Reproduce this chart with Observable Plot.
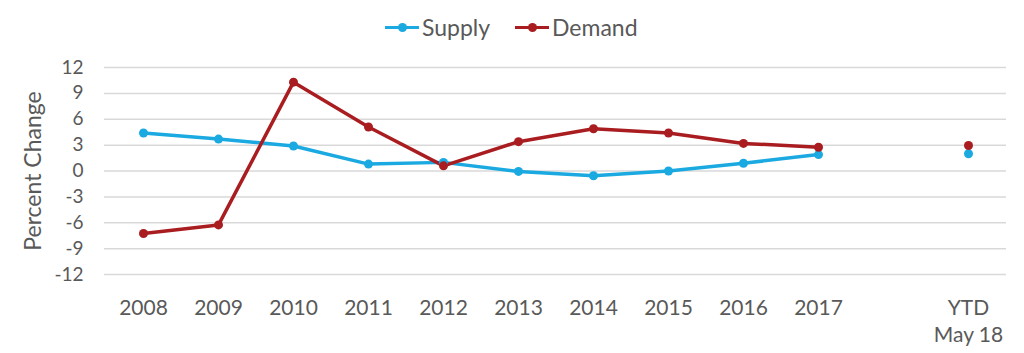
<!DOCTYPE html>
<html>
<head>
<meta charset="utf-8">
<script src="https://cdn.jsdelivr.net/npm/d3@7"></script>
<script src="https://cdn.jsdelivr.net/npm/@observablehq/plot@0.6"></script>
<style>
  html, body { margin: 0; padding: 0; background: #fff; }
  body { width: 1024px; height: 353px; overflow: hidden; font-family: Lato, "Noto Sans", sans-serif; color: #595959; }
  #legend { height: 50px; position: relative; }
  .item { position: absolute; top: 13px; display: flex; align-items: center; font-size: 23px; line-height: 28px; }
  .sw { position: relative; width: 34px; height: 28px; margin-right: 3px; }
  .sw .ln { position: absolute; left: 0; right: 0; top: 12.5px; height: 3px; }
  .sw .dt { position: absolute; left: 12.5px; top: 9.5px; width: 9px; height: 9px; border-radius: 50%; }
</style>
</head>
<body>
<div id="legend"></div>
<div id="chart"></div>
<script>
const years = ["2008","2009","2010","2011","2012","2013","2014","2015","2016","2017"];
const ytdLabel = "YTD\nMay 18";
const supply = [4.4, 3.7, 2.9, 0.8, 1.0, -0.05, -0.55, 0.0, 0.9, 1.9];
const demand = [-7.25, -6.25, 10.3, 5.1, 0.6, 3.4, 4.9, 4.4, 3.2, 2.75];
const ytdSupply = 2.0;
const ytdDemand = 2.95;
const yTicks = [-12, -9, -6, -3, 0, 3, 6, 9, 12];
const seriesNames = ["Supply", "Demand"];
const seriesColors = ["#1aa9e0", "#a91d21"];
const yTitle = "Percent Change";

const xDomain = [...years, " ", ytdLabel];
const xTicks = [...years, ytdLabel];

const lineRows = [];
years.forEach((y, i) => {
  lineRows.push({cat: y, value: supply[i], series: "Supply"});
  lineRows.push({cat: y, value: demand[i], series: "Demand"});
});
const ytdRows = [
  {cat: ytdLabel, value: ytdSupply, series: "Supply"},
  {cat: ytdLabel, value: ytdDemand, series: "Demand"}
];

// legend
const legend = document.getElementById("legend");
const lefts = [385, 515];
seriesNames.forEach((n, i) => {
  const it = document.createElement("div");
  it.className = "item";
  it.style.left = lefts[i] + "px";
  it.innerHTML = `<div class="sw"><div class="ln" style="background:${seriesColors[i]}"></div><div class="dt" style="background:${seriesColors[i]}"></div></div><span>${n}</span>`;
  legend.appendChild(it);
});

const chart = Plot.plot({
  width: 1024,
  height: 303,
  marginTop: 17,
  marginBottom: 79,
  marginLeft: 104,
  marginRight: 18,
  style: {fontFamily: "Lato, 'Noto Sans', sans-serif", color: "#595959", background: "#fff"},
  x: {type: "point", domain: xDomain, padding: 0.5},
  y: {domain: [-12, 12]},
  color: {domain: seriesNames, range: seriesColors},
  marks: [
    Plot.gridY(yTicks, {stroke: "#d9d9d9", strokeOpacity: 1, strokeWidth: 1.5}),
    Plot.axisY({ticks: yTicks, tickSize: 0, tickPadding: 21, fontSize: 19, label: null, tickFormat: d => String(d)}),
    Plot.text([yTitle], {frameAnchor: "left", textAnchor: "middle", dx: -71, rotate: -90, fontSize: 23, fill: "#595959", text: d => d}),
    Plot.axisX({ticks: xTicks, tickSize: 0, tickPadding: 21, fontSize: 21, lineHeight: 1.3, label: null}),
    Plot.line(lineRows, {x: "cat", y: "value", z: "series", stroke: "series", strokeWidth: 3.5}),
    Plot.dot(lineRows, {x: "cat", y: "value", fill: "series", r: 4.5}),
    Plot.dot(ytdRows, {x: "cat", y: "value", fill: "series", r: 4.5})
  ]
});
document.getElementById("chart").appendChild(chart);
</script>
</body>
</html>
